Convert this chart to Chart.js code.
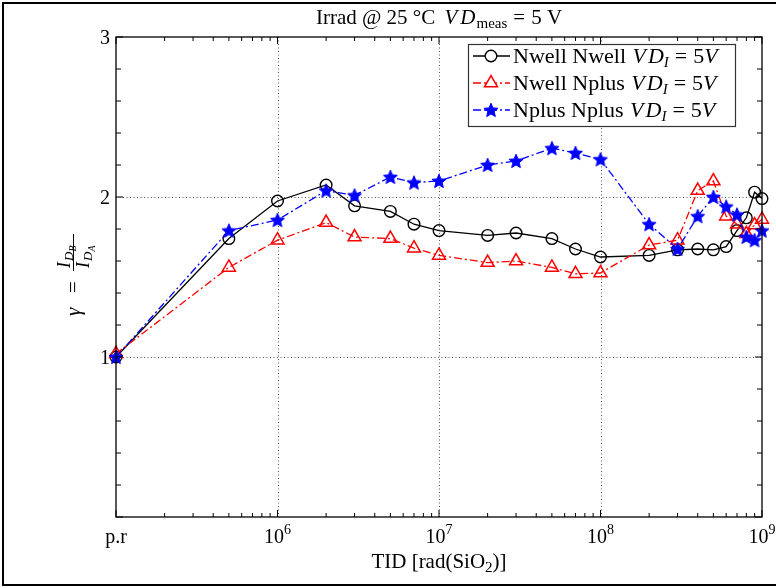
<!DOCTYPE html>
<html><head><meta charset="utf-8">
<script src="https://cdn.jsdelivr.net/npm/chart.js@4"></script>
<style>html,body{margin:0;padding:0;background:#fff;}#wrap{width:776px;height:588px;}</style>
</head><body><div id="wrap"><canvas id="c" width="776" height="588"></canvas></div>
<script>
// ---- data ----
const doses = [1e5, 5e5, 1e6, 2e6, 3e6, 5e6, 7e6, 1e7, 2e7, 3e7, 5e7, 7e7, 1e8, 2e8, 3e8, 4e8, 5e8, 6e8, 7e8, 8e8, 9e8, 1e9];
const nwellNwell = [1.00, 1.74, 1.975, 2.075, 1.945, 1.91, 1.83, 1.79, 1.76, 1.775, 1.74, 1.675, 1.625, 1.635, 1.67, 1.675, 1.67, 1.69, 1.79, 1.87, 2.03, 1.99];
const nwellNplus = [1.02, 1.56, 1.73, 1.84, 1.75, 1.74, 1.68, 1.635, 1.59, 1.60, 1.56, 1.52, 1.525, 1.70, 1.73, 2.04, 2.10, 1.88, 1.83, 1.77, 1.825, 1.86];
const nplusNplus = [1.00, 1.79, 1.856, 2.04, 2.01, 2.125, 2.09, 2.10, 2.20, 2.225, 2.305, 2.275, 2.235, 1.83, 1.675, 1.88, 2.00, 1.94, 1.89, 1.75, 1.73, 1.79];
const seriesNames = ['Nwell Nwell', 'Nwell Nplus', 'Nplus Nplus'];
const xTickValues = [1e5, 1e6, 1e7, 1e8, 1e9];
const xTickLabels = ['p.r', '10^6', '10^7', '10^8', '10^9'];
const yTickValues = [1, 2, 3];
const yTickLabels = ['1', '2', '3'];
const X_MIN = 1e5, X_MAX = 1e9, Y_MIN = 0, Y_MAX = 3;

// ---- helpers ----
const FAM = '"Liberation Serif", "Times New Roman", serif';
const font = (size, italic) => (italic ? 'italic ' : '') + size + 'px ' + FAM;
function drawRich(ctx, x, y, runs, align) {
  let total = 0;
  runs.forEach(r => { ctx.font = font(r.s, r.i); total += ctx.measureText(r.t).width + (r.k || 0); });
  let cx = align === 'center' ? x - total / 2 : align === 'right' ? x - total : x;
  ctx.textAlign = 'left'; ctx.textBaseline = 'alphabetic';
  runs.forEach(r => { ctx.font = font(r.s, r.i); ctx.fillText(r.t, cx, y + (r.dy || 0)); cx += ctx.measureText(r.t).width + (r.k || 0); });
  return total;
}
function starImage(size, color) {
  const c = document.createElement('canvas');
  c.width = size; c.height = size;
  const g = c.getContext('2d');
  const cx = size / 2, cy = size / 2 + 0.6, R = size / 2 - 0.6, r = R * 0.45;
  g.beginPath();
  for (let i = 0; i < 10; i++) {
    const a = -Math.PI / 2 + i * Math.PI / 5;
    const rr = i % 2 ? r : R;
    g.lineTo(cx + rr * Math.cos(a), cy + rr * Math.sin(a));
  }
  g.closePath(); g.fillStyle = color; g.fill();
  g.strokeStyle = color; g.lineWidth = 1; g.stroke();
  return c;
}
const star = starImage(16, '#0000ff');
const pts = arr => doses.map((x, i) => ({ x: x, y: arr[i] }));
const dashDot = [8, 3, 2, 3];

const plotDecor = {
  id: 'plotDecor',
  beforeDatasetsDraw(chart) {
    const ctx = chart.ctx, xs = chart.scales.x, ys = chart.scales.y, a = chart.chartArea;
    ctx.save();
    ctx.strokeStyle = '#555'; ctx.lineWidth = 1; ctx.setLineDash([1, 2.5]);
    xTickValues.forEach(v => {
      if (v <= X_MIN || v >= X_MAX) return;
      const px = Math.round(xs.getPixelForValue(v)) + 0.5;
      ctx.beginPath(); ctx.moveTo(px, a.top); ctx.lineTo(px, a.bottom); ctx.stroke();
    });
    yTickValues.forEach(v => {
      if (v <= Y_MIN || v >= Y_MAX) return;
      const py = Math.round(ys.getPixelForValue(v)) + 0.5;
      ctx.beginPath(); ctx.moveTo(a.left, py); ctx.lineTo(a.right, py); ctx.stroke();
    });
    ctx.restore();
  },
  afterDatasetsDraw(chart) {
    const ctx = chart.ctx, xs = chart.scales.x, ys = chart.scales.y, a = chart.chartArea;
    ctx.save();
    ctx.setLineDash([]);
    ctx.strokeStyle = '#000'; ctx.fillStyle = '#000';
    // axis box
    ctx.lineWidth = 1.3;
    ctx.strokeRect(a.left, a.top, a.right - a.left, a.bottom - a.top);
    // x ticks
    ctx.lineWidth = 1;
    for (let e = 5; e <= 9; e++) {
      for (let k = 1; k <= 9; k++) {
        const v = k * Math.pow(10, e);
        if (v > X_MAX) break;
        const px = xs.getPixelForValue(v);
        const len = k === 1 ? 7 : 4;
        ctx.beginPath();
        ctx.moveTo(px, a.bottom); ctx.lineTo(px, a.bottom - len);
        ctx.moveTo(px, a.top); ctx.lineTo(px, a.top + len);
        ctx.stroke();
      }
    }
    // y ticks
    for (let i = 0; i <= 15; i++) {
      const v = Y_MIN + i * 0.2;
      const py = ys.getPixelForValue(v);
      const len = (i % 5 === 0) ? 7 : 5;
      ctx.beginPath();
      ctx.moveTo(a.left, py); ctx.lineTo(a.left + len, py);
      ctx.moveTo(a.right, py); ctx.lineTo(a.right - len, py);
      ctx.stroke();
    }
    // y tick labels
    yTickValues.forEach((v, i) => {
      drawRich(ctx, a.left - 6, ys.getPixelForValue(v) + 7, [{ t: yTickLabels[i], s: 20 }], 'right');
    });
    // x tick labels
    xTickValues.forEach((v, i) => {
      const px = xs.getPixelForValue(v);
      const lab = xTickLabels[i];
      const by = a.bottom + 26;
      if (lab.indexOf('^') >= 0) {
        const parts = lab.split('^');
        drawRich(ctx, px, by, [{ t: parts[0], s: 20 }, { t: parts[1], s: 14, dy: -9 }], 'center');
      } else {
        drawRich(ctx, px, by, [{ t: lab, s: 20 }], 'center');
      }
    });
    // x axis title
    drawRich(ctx, (a.left + a.right) / 2, a.bottom + 51, [
      { t: 'TID [rad(SiO', s: 21 }, { t: '2', s: 15, dy: 4 }, { t: ')]', s: 21 }
    ], 'center');
    // title
    drawRich(ctx, (a.left + a.right) / 2, a.top - 13, [
      { t: 'Irrad @ 25 °C ', s: 21, k: 4 }, { t: 'V', s: 21, i: true, k: 3 }, { t: 'D', s: 21, i: true, k: 1 },
      { t: 'meas', s: 15, dy: 4, k: 6 }, { t: '=', s: 21, k: 6 }, { t: '5 V', s: 21 }
    ], 'center');
    // y axis title (rotated)
    ctx.save();
    ctx.translate(74, 274);
    ctx.rotate(-Math.PI / 2);
    drawRich(ctx, -42, 6, [{ t: 'γ', s: 21, i: true }], 'left');
    drawRich(ctx, -19, 6, [{ t: '=', s: 21 }], 'left');
    ctx.lineWidth = 1;
    ctx.beginPath(); ctx.moveTo(3, -0.5); ctx.lineTo(40, -0.5); ctx.stroke();
    drawRich(ctx, 6, -4, [{ t: 'I', s: 18, i: true, k: 1 }, { t: 'D', s: 13, i: true, dy: 3 }, { t: 'B', s: 10, i: true, dy: 6 }], 'left');
    drawRich(ctx, 6, 15, [{ t: 'I', s: 18, i: true, k: 1 }, { t: 'D', s: 13, i: true, dy: 3 }, { t: 'A', s: 10, i: true, dy: 6 }], 'left');
    ctx.restore();
    // legend
    const lx = 468, ly = 44, lw = 267, lh = 82;
    ctx.fillStyle = '#fff';
    ctx.fillRect(lx, ly, lw, lh);
    ctx.strokeStyle = '#333'; ctx.lineWidth = 1.2;
    ctx.strokeRect(lx + 0.5, ly + 0.5, lw, lh);
    const rows = [56, 83, 110];
    chart.data.datasets.forEach((ds, i) => {
      const ry = rows[i];
      ctx.save();
      ctx.strokeStyle = ds.borderColor; ctx.lineWidth = ds.borderWidth;
      ctx.setLineDash(ds.borderDash || []);
      ctx.beginPath(); ctx.moveTo(473, ry); ctx.lineTo(510, ry); ctx.stroke();
      ctx.setLineDash([]);
      const style = ds.pointStyle;
      if (style === 'circle') {
        ctx.lineWidth = ds.pointBorderWidth; ctx.fillStyle = '#fff';
        ctx.beginPath(); ctx.arc(491, ry, ds.pointRadius, 0, Math.PI * 2); ctx.fill(); ctx.stroke();
      } else if (style === 'triangle') {
        ctx.lineWidth = ds.pointBorderWidth; ctx.fillStyle = '#fff';
        const r = ds.pointRadius;
        ctx.beginPath();
        for (let k = 0; k < 3; k++) { const ang = -Math.PI / 2 + k * 2 * Math.PI / 3; ctx.lineTo(491 + r * Math.cos(ang), ry + r * Math.sin(ang)); }
        ctx.closePath(); ctx.fill(); ctx.stroke();
      } else {
        ctx.drawImage(style, 491 - style.width / 2, ry - style.height / 2);
      }
      ctx.restore();
      ctx.fillStyle = '#000';
      drawRich(ctx, 513, ry + 7, [
        { t: seriesNames[i] + ' ', s: 22, k: 1 }, { t: 'V', s: 22, i: true, k: 2 }, { t: 'D', s: 22, i: true },
        { t: 'I', s: 15, i: true, dy: 4, k: 6 }, { t: '=', s: 22, k: 6 }, { t: '5', s: 22 }, { t: 'V', s: 22, i: true }
      ], 'left');
    });
    // outer frame
    ctx.strokeStyle = '#000'; ctx.lineWidth = 2;
    ctx.strokeRect(3, 3, 800, 582);
    ctx.restore();
  }
};

new Chart(document.getElementById('c'), {
  type: 'line',
  data: {
    datasets: [
      { label: seriesNames[0], data: pts(nwellNwell), borderColor: '#000000', borderWidth: 1.3,
        pointStyle: 'circle', pointRadius: 5.8, pointHoverRadius: 5.8, pointBorderColor: '#000000',
        pointBackgroundColor: 'rgba(0,0,0,0)', pointBorderWidth: 1.4, tension: 0, clip: false, order: 3, fill: false },
      { label: seriesNames[1], data: pts(nwellNplus), borderColor: '#ff0000', borderWidth: 1.3, borderDash: dashDot,
        pointStyle: 'triangle', pointRadius: 7.5, pointHoverRadius: 7.5, pointBorderColor: '#ff0000',
        pointBackgroundColor: 'rgba(0,0,0,0)', pointBorderWidth: 1.5, tension: 0, clip: false, order: 2, fill: false },
      { label: seriesNames[2], data: pts(nplusNplus), borderColor: '#0000ff', borderWidth: 1.3, borderDash: dashDot,
        pointStyle: star, pointRadius: 8, pointHoverRadius: 8, pointBorderColor: '#0000ff',
        pointBackgroundColor: '#0000ff', pointBorderWidth: 1, tension: 0, clip: false, order: 1, fill: false }
    ]
  },
  options: {
    responsive: false, animation: false, devicePixelRatio: 1,
    layout: { padding: { left: 116, right: 14, top: 37, bottom: 71 } },
    plugins: { legend: { display: false }, title: { display: false }, tooltip: { enabled: false } },
    events: [],
    scales: {
      x: { type: 'logarithmic', min: X_MIN, max: X_MAX, display: false },
      y: { type: 'linear', min: Y_MIN, max: Y_MAX, display: false }
    }
  },
  plugins: [plotDecor]
});
</script>
</body></html>
